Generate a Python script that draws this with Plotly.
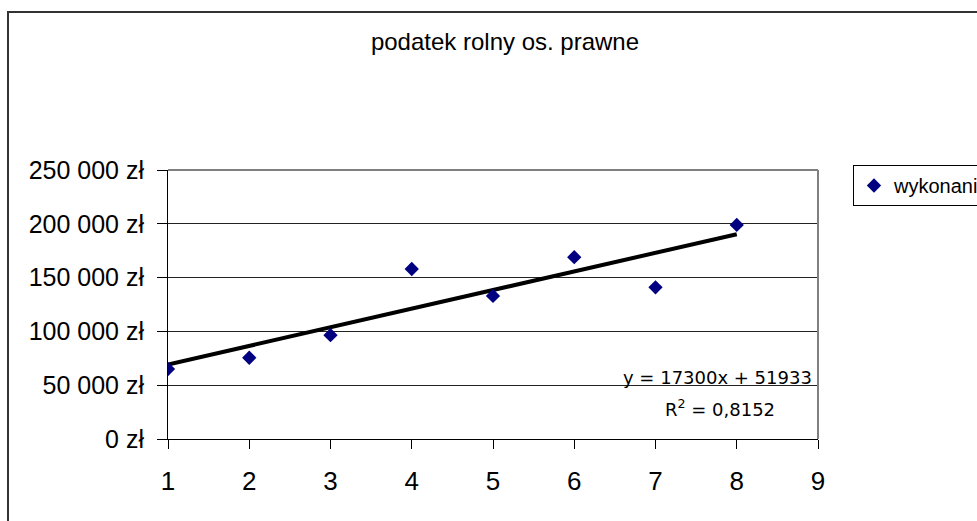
import plotly.graph_objects as go

# data
x_vals = [1, 2, 3, 4, 5, 6, 7, 8]
wykonanie = [65000, 75500, 96500, 158000, 133000, 169000, 141000, 199000]
trend_slope = 17300
trend_intercept = 51933
r_squared_text = "0,8152"
y_ticks = [0, 50000, 100000, 150000, 200000, 250000]
y_tick_labels = ["0 zł", "50 000 zł", "100 000 zł", "150 000 zł", "200 000 zł", "250 000 zł"]
x_ticks = [1, 2, 3, 4, 5, 6, 7, 8, 9]
title_text = "podatek rolny os. prawne"
series_name = "wykonanie"

W, H = 977, 521
FONT = "Liberation Sans, Arial, sans-serif"
EQFONT = "DejaVu Sans, sans-serif"

fig = go.Figure()

trend_x = [x_vals[0], x_vals[-1]]
trend_y = [trend_slope * v + trend_intercept for v in trend_x]
fig.add_trace(go.Scatter(x=trend_x, y=trend_y, mode="lines",
                         line=dict(color="black", width=4),
                         showlegend=False, hoverinfo="skip"))

fig.add_trace(go.Scatter(x=x_vals, y=wykonanie, mode="markers", name=series_name,
                         marker=dict(symbol="diamond", size=11, color="#000080",
                                     line=dict(width=0))))

xd = [168 / W, 818 / W]
yd = [(H - 439) / H, (H - 170) / H]

fig.update_layout(
    template="none",
    width=W, height=H,
    margin=dict(l=0, r=0, t=0, b=0, autoexpand=False),
    paper_bgcolor="white", plot_bgcolor="white",
    font=dict(family=FONT, color="black"),
    title=dict(text=title_text, x=505 / W, xanchor="center",
               y=1 - 42 / H, yanchor="middle",
               font=dict(size=24, family=FONT, color="black")),
    xaxis=dict(domain=xd, range=[1, 9], tickvals=x_ticks, automargin=False,
               ticks="outside", ticklen=9, tickcolor="black", tickwidth=1,
               ticklabelstandoff=10,
               showline=True, linecolor="black", linewidth=1,
               showgrid=False, zeroline=False,
               tickfont=dict(size=26, family=FONT, color="black")),
    yaxis=dict(domain=yd, range=[0, 250000], tickvals=y_ticks, ticktext=y_tick_labels,
               automargin=False,
               ticks="outside", ticklen=10, tickcolor="black", tickwidth=1,
               ticklabelstandoff=8,
               showline=True, linecolor="black", linewidth=1,
               showgrid=True, gridcolor="#222222", gridwidth=1,
               zeroline=False,
               tickfont=dict(size=25, family=FONT, color="black")),
    legend=dict(x=853 / W, xanchor="left", y=1 - 165 / H, yanchor="top",
                bordercolor="black", borderwidth=1, bgcolor="white",
                font=dict(size=20, family=FONT, color="black"),
                itemwidth=30, tracegroupgap=0),
    showlegend=True,
)

# right and top plot border (grey)
fig.add_shape(type="line", xref="paper", yref="paper",
              x0=xd[1], x1=xd[1], y0=yd[0], y1=yd[1],
              line=dict(color="#808080", width=2))
fig.add_shape(type="line", xref="paper", yref="paper",
              x0=xd[0], x1=xd[1], y0=yd[1], y1=yd[1],
              line=dict(color="#808080", width=2))

# outer chart border
fig.add_shape(type="rect", xref="paper", yref="paper",
              x0=8 / W, x1=1.05, y0=-0.05, y1=1 - 12 / H,
              line=dict(color="#333333", width=2), layer="below")

fig.add_annotation(xref="paper", yref="paper", x=814 / W, y=1 - 377 / H,
                   xanchor="right", yanchor="middle", showarrow=False,
                   text="y = %dx + %d" % (trend_slope, trend_intercept),
                   font=dict(size=18, family=EQFONT, color="black"))
fig.add_annotation(xref="paper", yref="paper", x=777 / W, y=1 - 408 / H,
                   xanchor="right", yanchor="middle", showarrow=False,
                   text="R<sup>2</sup> = " + r_squared_text,
                   font=dict(size=18, family=EQFONT, color="black"))

fig.write_html("out.html",
               config={"displayModeBar": False},
               post_script="document.body.style.margin='0';document.body.style.overflow='hidden';")
